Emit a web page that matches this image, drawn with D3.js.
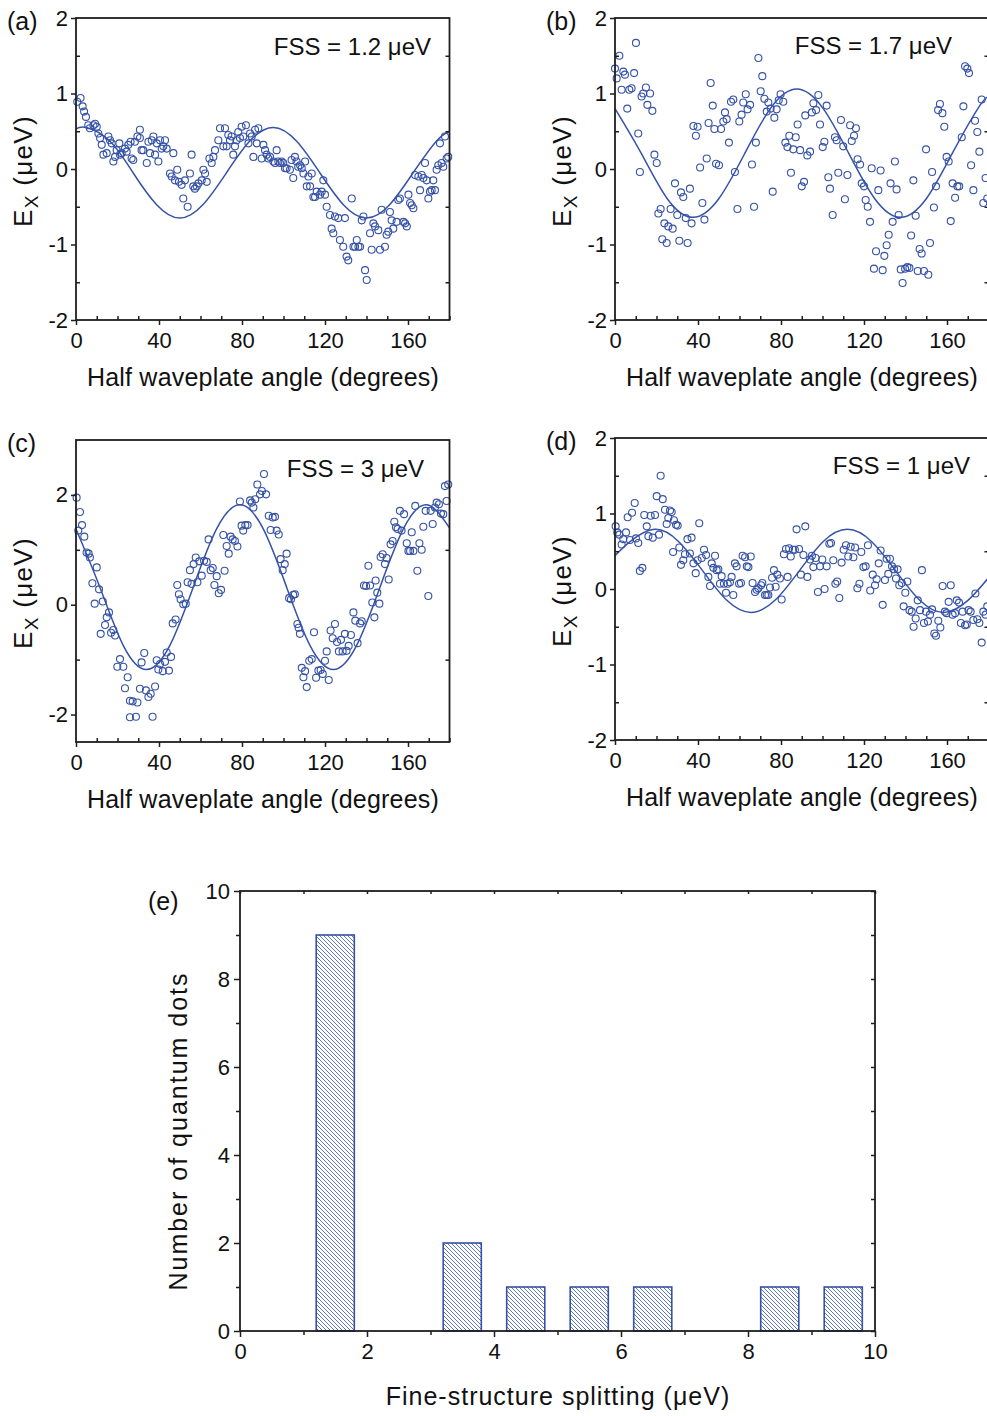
<!DOCTYPE html>
<html>
<head>
<meta charset="utf-8">
<script src="https://cdn.jsdelivr.net/npm/d3@7"></script>
<style>
  body { margin: 0; background: #fff; }
  svg text { font-family: "Liberation Sans", Arial, sans-serif; fill: #111; }
</style>
</head>
<body>
<div id="chart"></div>
<script>
// ---- data ----
const angleTicks = [0, 40, 80, 120, 160];
const angleMinor = [10, 20, 30, 50, 60, 70, 90, 100, 110, 130, 140, 150, 170, 180];
const eTicks = [-2, -1, 0, 1, 2];
const eMinor = [-1.5, -0.5, 0.5, 1.5];
const eTicksC = [-2, 0, 2];
const eMinorC = [-1, 1];

const fssLabels = ["FSS = 1.2 \u03bceV", "FSS = 1.7 \u03bceV", "FSS = 3 \u03bceV", "FSS = 1 \u03bceV"];

// measured E_x vs half waveplate angle, [angle, value]
const pointsA = [[0.6,0.89],[2.2,0.94],[3.2,0.83],[3.9,0.76],[4.8,0.69],[5.9,0.58],[6.7,0.54],[8.4,0.58],[9.2,0.6],[10,0.56],
  [10.8,0.47],[11.6,0.41],[12.4,0.32],[13.2,0.19],[14.8,0.21],[15.6,0.43],[16.4,0.38],[17.2,0.34],[18,0.1],[18.8,0.16],
  [19.6,0.25],[20.9,0.34],[21.2,0.19],[22,0.21],[23.6,0.27],[24.4,0.23],[25.2,0.32],[26.3,0.36],[26.8,0.14],[27.6,0.12],
  [28.4,0.36],[29.6,0.43],[30.8,0.52],[30.8,0.41],[31.6,0.25],[32.4,0.25],[34.1,0.08],[34.9,0.36],[35.7,0.21],[36.5,0.38],
  [37.3,0.43],[38.1,0.19],[38.9,0.34],[39.7,0.1],[40.5,0.38],[41.3,0.27],[42.1,0.3],[42.9,0.38],[43.7,0.27],[45.3,-0.06],
  [46.1,-0.1],[46.9,0.21],[47.7,-0.15],[48.8,-0.01],[49.6,-0.17],[50.9,-0.21],[51.7,-0.39],[52.5,-0.15],[53.8,-0.5],[54.9,-0.06],
  [55.7,0.19],[56.5,-0.23],[57.3,-0.26],[58.2,-0.23],[59,-0.19],[60.6,-0.15],[61.4,-0.01],[62.2,-0.06],[63,-0.17],[64.3,0.14],
  [65.4,0.08],[66.2,0.16],[67,0.25],[68.6,0.38],[69.4,0.54],[71,0.3],[71.8,0.54],[72.6,0.3],[73.4,0.45],[74.2,0.38],
  [75,0.43],[75.8,0.19],[76.6,0.3],[77.4,0.38],[78.2,0.49],[79,0.41],[79.8,0.56],[80.6,0.43],[81.9,0.58],[83.1,0.34],
  [83.9,0.47],[84.7,0.43],[85.5,0.16],[86.3,0.52],[87.1,0.34],[87.9,0.54],[89.5,0.14],[90.3,0.32],[91.1,0.25],[91.9,0.19],
  [92.7,0.14],[93.5,0.16],[95.1,0.1],[95.9,0.08],[96.7,0.25],[97.5,0.1],[98.3,0.08],[99.1,0.1],[99.9,0.08],[100.7,0.01],
  [101.5,0.01],[103.1,-0.01],[103.9,0.12],[104.7,-0.12],[105.5,0.16],[106.3,0.1],[107.1,0.03],[108,0.05],[108.8,0.01],[109.6,-0.06],
  [110.4,0.1],[111.2,-0.23],[112,-0.1],[112.8,-0.23],[113.6,-0.06],[114.4,-0.37],[115.2,-0.37],[116,-0.3],[117.6,-0.34],[118.4,-0.3],
  [119.2,-0.15],[120,-0.34],[120.8,-0.5],[122.4,-0.61],[123.2,-0.79],[124,-0.85],[124.8,-0.63],[126.4,-0.65],[127.2,-0.94],[128.8,-1.03],
  [129.6,-0.65],[130.4,-1.16],[131.2,-1.21],[132.9,-0.39],[133.7,-1.03],[134.5,-1.03],[135.3,-0.94],[136.1,-1.03],[136.9,-1.03],[137.7,-0.68],
  [138.5,-0.63],[139.3,-1.34],[140.1,-1.47],[141.7,-0.85],[142.5,-1.07],[143.3,-0.72],[144.1,-0.76],[145.7,-0.81],[146.5,-1.07],[147.3,-0.54],
  [148.9,-1.03],[149.7,-0.87],[150.5,-0.83],[151.3,-0.57],[152.1,-0.68],[152.9,-0.79],[154.5,-0.7],[155.3,-0.41],[156.1,-0.39],[157.8,-0.7],
  [158.6,-0.72],[159.4,-0.76],[160.2,-0.34],[161,-0.45],[161.8,-0.48],[162.6,-0.52],[163.4,-0.08],[165,-0.1],[165.8,-0.28],[166.6,-0.08],
  [167.4,-0.12],[168.2,0.08],[169,-0.15],[169.8,-0.39],[170.6,-0.3],[171.4,-0.28],[172.2,-0.15],[173,-0.28],[173.8,-0.01],[174.6,0.05],
  [175.4,0.34],[176.2,0.08],[177,0.03],[177.8,0.43],[178.6,0.14],[179.4,0.16]];

const pointsB = [[0,1.33],[0.8,1.2],[2.1,1.5],[3.2,1.05],[4,1.29],[4.8,1.25],[5.9,0.8],[6.9,1.05],[8,1.07],[9.2,1.27],
  [10.1,1.67],[11.2,0.47],[12,-0.04],[12.8,0.96],[13.6,1],[14.9,1.08],[15.6,0.85],[16.9,1],[18,0.77],[19,0.19],
  [20.1,0.08],[20.9,-0.59],[22,-0.53],[22.8,-0.93],[23.8,-0.72],[24.9,-0.98],[25.7,-0.76],[26.8,-0.53],[27.8,-0.79],[28.9,-0.19],
  [30,-0.61],[31,-0.95],[31.8,-0.31],[32.9,-0.37],[34.1,-0.65],[35,-0.98],[36.1,-0.26],[36.9,-0.72],[37.8,0.57],[39,0.44],
  [39.8,0.56],[41,0.02],[42.1,-0.45],[43.1,-0.67],[44.2,0.14],[45.1,0.61],[46.1,1.14],[47.1,0.84],[47.9,0.53],[48.7,0.07],
  [50.1,0.05],[51.1,0.53],[52.2,0.63],[53,0.75],[53.8,0.66],[54.9,0.35],[55.9,0.89],[57,0.92],[57.8,-0.04],[59,-0.53],
  [59.9,0.63],[61,0.72],[61.8,0.88],[63,0.99],[63.9,0.79],[65.1,0.85],[66,0.06],[67,-0.5],[67.9,0.35],[69.1,1.47],
  [70.2,1.03],[71,1.23],[72,0.93],[73.1,0.76],[73.9,0.88],[75,0.8],[76,-0.3],[76.8,0.68],[77.9,0.79],[78.9,0.91],
  [79.8,0.99],[81.1,0.89],[82.1,0.35],[83.1,0.29],[84,0.44],[84.8,-0.05],[85.9,0.26],[87.1,0.42],[88,0.59],[89.2,0.25],
  [90,-0.23],[91.1,-0.17],[91.7,0.71],[92.7,0.18],[94,0.23],[94.9,0.75],[95.6,0.87],[96.9,0.78],[98,0.98],[98.8,0.59],
  [100.1,0.29],[100.9,0.36],[102,0.84],[102.8,-0.11],[103.6,-0.26],[104.9,-0.61],[106,0.42],[106.8,0.38],[107.6,-0.05],[108.9,0.65],
  [110,0.3],[110.8,-0.4],[112,-0.08],[113.3,0.58],[114.1,0.37],[115.2,0.44],[116.1,0.54],[116.9,0.13],[118.1,0.06],[118.9,-0.19],
  [120,-0.23],[120.8,-0.41],[121.8,-0.5],[122.9,-0.7],[123.7,0.01],[124.8,-1.32],[125.8,-1.09],[126.9,-0.28],[128,-0.02],[129,-1.34],
  [129.8,-1.15],[130.9,-1.01],[131.9,-0.87],[132.8,-0.19],[133.8,-0.7],[134.9,0.1],[135.7,-0.27],[136.7,-0.61],[137.7,-1.33],[138.6,-1.51],
  [139.8,-1.32],[140.9,-1.3],[141.9,-1.31],[142.7,-0.88],[143.8,-0.15],[144.9,-0.62],[145.9,-1.35],[146.8,-1.06],[147.8,-1.12],[148.9,-1.35],
  [149.9,0.26],[151,-1.4],[151.8,-0.98],[152.8,-0.04],[153.7,-0.51],[154.7,-0.23],[155.7,0.78],[156.6,0.86],[157.8,0.74],[158.7,0.56],
  [159.8,0.16],[160.8,0.1],[161.8,-0.69],[162.7,-0.19],[163.9,-0.38],[165,-0.23],[165.9,-0.23],[167.1,0.42],[167.9,0.83],[168.7,1.36],
  [169.8,1.33],[170.6,1.27],[171.6,0.05],[172.7,-0.28],[173.5,0.64],[174.6,0.49],[175.6,0.23],[176.7,0.92],[177.5,-0.45],[178.6,-0.12],
  [179.4,-0.39]];

const pointsC = [[0.3,1.95],[1.1,1.35],[1.9,1.69],[2.9,1.45],[4,1.24],[5.1,0.95],[6.1,0.93],[6.7,0.86],[7.9,0.39],[9,0.02],
  [10,0.68],[11.1,0.28],[11.9,-0.53],[12.9,0.06],[14,-0.37],[14.8,-0.23],[15.9,-0.14],[16.9,-0.51],[18,-0.46],[18.8,-0.56],
  [19.9,-1.13],[21.2,-0.99],[22.8,-1.13],[23.6,-1.52],[24.9,-1.32],[26,-1.75],[26,-2.05],[27.3,-1.76],[28.9,-2.04],[29.6,-1.78],
  [30.8,-1.53],[31.6,-1.05],[32.9,-0.88],[33.7,-1.56],[34.9,-1.68],[36,-1.62],[36.9,-2.04],[38.1,-1.49],[38.9,-1.01],[39.7,-1.18],
  [40.5,-1.08],[41.8,-1.21],[42.9,-1.04],[43.7,-0.87],[44.8,-1.2],[45.8,-0.95],[46.6,-0.34],[48,-0.27],[48.8,0.36],[49.6,0.19],
  [50.4,0.1],[51.7,0.01],[52.9,0.02],[53.8,0.41],[54.9,0.63],[55.7,0.38],[56.7,0.74],[57.7,0.86],[58.5,0.41],[59.4,0.79],
  [60.6,0.53],[61.7,0.8],[63,0.78],[63.9,1.19],[64.9,0.63],[65.9,0.67],[66.7,0.36],[67.8,0.52],[68.8,0.21],[69.9,0.27],
  [71,1.27],[71.6,0.62],[72.6,1.07],[73.6,0.93],[74.5,1.24],[75.5,1.19],[76.6,1.16],[77.8,1.06],[79,1.88],[79.8,1.44],
  [80.6,1.35],[81.6,1.45],[82.7,1.45],[83.9,1.9],[84.7,1.86],[85.5,1.77],[86.4,1.92],[87.4,2.19],[88.7,2.01],[89.6,2.07],
  [90.6,2.38],[91.6,2.01],[92.9,1.62],[93.8,1.36],[94.8,1.59],[95.9,1.6],[96.7,1.35],[97.7,1.28],[98.6,0.83],[99.6,0.63],
  [100.6,0.74],[101.5,0.93],[102.7,0.12],[103.6,0.1],[104.7,0.18],[105.5,0.19],[106.7,-0.35],[107.3,-0.42],[107.9,-0.53],[108.8,-1.15],
  [109.6,-1.32],[110.4,-1.21],[111.2,-1.5],[112.4,-1.02],[113.6,-0.99],[114.7,-0.5],[115.7,-1.33],[116.8,-1.2],[117.9,-1.19],[118.9,-1.26],
  [120,-1.02],[120.8,-0.85],[121.8,-1.37],[122.7,-0.47],[123.7,-0.61],[124.8,-0.35],[125.8,-0.68],[126.7,-0.85],[127.7,-0.64],[128.5,-0.85],
  [129.6,-0.53],[130.4,-0.84],[131.4,-0.75],[132.5,-0.55],[133.7,-0.14],[134.6,-0.29],[135.7,-0.7],[136.9,-0.34],[137.7,-0.3],[138.8,0.35],
  [139.8,0.34],[140.9,0.71],[141.7,0.35],[142.8,0.04],[143.8,-0.23],[144.4,0.44],[145.2,0.22],[146.2,0.02],[146.8,0.87],[147.8,0.92],
  [148.9,0.74],[149.7,0.85],[150.7,0.46],[151.6,1.1],[152.6,1.16],[153.4,1.51],[154.2,1.41],[155,1.38],[156.1,1.71],[156.9,1.35],
  [158.1,1.65],[159.4,1.12],[160.2,0.98],[161,0.98],[161.8,1.32],[162.6,0.98],[163.5,1.8],[164.5,0.62],[165.5,1.12],[166.6,1],
  [167.4,1.42],[168.5,1.71],[169.8,0.16],[170.9,1.71],[171.9,1.47],[173,1.77],[173.8,1.86],[174.9,1.83],[175.9,1.66],[177,1.65],
  [177.8,2.16],[178.6,1.89],[179.4,2.19]];

const pointsD = [[0.3,0.83],[1.1,0.75],[2.1,0.72],[3.2,0.59],[4,0.66],[5.3,0.75],[6.1,0.95],[7.2,0.65],[8.2,1.01],[9.5,1.14],
  [10.1,0.67],[11.2,0.61],[12,0.24],[13.2,0.28],[14.1,0.98],[15.3,0.83],[16.1,0.7],[17.2,0.97],[18.2,0.68],[19.3,0.98],
  [20.1,1.23],[21.2,0.72],[22,1.5],[23,1.19],[24.1,1.05],[24.9,0.86],[25.7,0.94],[26.5,1.04],[27.3,1.02],[28.4,0.91],
  [29.4,0.85],[30.2,0.84],[28,0.49],[31,0.55],[31.8,0.32],[32.9,0.38],[33.7,0.46],[34.9,0.66],[36.1,0.47],[36.9,0.68],
  [37.8,0.34],[38.9,0.21],[39.8,0.38],[40.6,0.87],[41.8,0.41],[42.9,0.52],[43.9,0.45],[45,0.16],[45.8,0.04],[46.6,0.34],
  [47.4,0.28],[48.2,0.44],[49,0.25],[49.8,0.26],[50.6,0.07],[51.4,0.17],[52.5,0.07],[53.5,-0.05],[54.3,0.07],[55.4,0.09],
  [56.2,0.16],[57,-0.08],[57.8,0.34],[58.6,0.3],[59.8,0.07],[60.7,0.08],[61.5,0.44],[62.7,0.42],[63.5,0.3],[64.3,0.29],
  [65.4,0.43],[66.3,0.08],[67.5,-0.04],[68.3,-0.01],[69.1,0.01],[70.4,0.05],[71,0.08],[72.3,-0.08],[73.1,-0.08],[73.9,-0.08],
  [74.7,0.02],[75.7,0.15],[76.6,0.25],[77.4,0.03],[78.2,0.19],[79.5,0.14],[80.3,-0.14],[81.4,0.46],[82.4,0.53],[83.2,0.16],
  [83.9,0.54],[84.7,0.43],[85.8,0.52],[86.7,0.52],[87.5,0.79],[88.7,0.53],[89.6,0.19],[90.8,0.45],[91.7,0.83],[92.7,0.16],
  [94,0.39],[94.9,0.44],[95.6,0.29],[96.7,0.41],[97.8,-0.04],[98.8,0.3],[99.9,0.39],[101,0],[102,0.3],[103.3,0.6],
  [104.1,0.61],[105.2,0.38],[106.2,0.07],[107.1,0.1],[108.1,-0.12],[109.2,0.35],[110.2,0.52],[111.3,0.58],[112.4,0.43],[113.6,0.56],
  [114.9,0.42],[115.7,0.55],[116.8,0.01],[117.8,0.07],[118.7,0.49],[119.7,0.29],[120.8,0.3],[121.9,0.58],[123,-0.02],[124.2,0.19],
  [125.3,0.05],[126.1,0.13],[127.1,0.34],[128,0.51],[129,-0.21],[130.1,0.12],[130.9,0.4],[131.7,0.2],[132.5,0.4],[133.5,0.3],
  [134.5,0.26],[135.4,0.14],[136.2,0.26],[137,0.05],[138.2,0.08],[139.1,-0.23],[139.9,-0.05],[140.9,0.1],[141.9,-0.28],[143,-0.3],
  [143.9,-0.5],[144.9,-0.39],[145.9,-0.15],[147,-0.28],[147.9,0.25],[148.9,-0.45],[149.9,-0.3],[150.8,-0.43],[151.8,-0.34],[152.8,-0.27],
  [153.9,-0.59],[154.7,-0.62],[155.8,-0.42],[156.8,-0.51],[157.9,0.04],[159,-0.3],[159.8,-0.32],[160.8,-0.17],[161.8,0.05],[162.7,-0.34],
  [163.9,-0.32],[164.7,-0.15],[165.8,-0.18],[166.7,-0.45],[167.5,-0.3],[168.7,-0.48],[169.5,-0.47],[170.4,-0.28],[171.4,-0.3],[172.7,-0.41],
  [173.7,-0.06],[174.6,-0.4],[175.6,-0.45],[176.7,-0.71],[177.5,-0.3],[178.6,-0.34],[179.4,-0.23]];

// fitted curves, sampled from the figure
const fitA = [[0,0.53],[5,0.55],[16.25,0.37],[27.5,-0.05],[38.75,-0.47],[50,-0.65],[61.25,-0.47],[72.5,-0.05],[83.75,0.37],
  [95,0.55],[106.25,0.37],[117.5,-0.05],[128.75,-0.47],[140,-0.65],[151.25,-0.47],[162.5,-0.05],[173.75,0.37],[180,0.5]];
const fitB = [[0,0.8],[12.6,0.21],[25.1,-0.39],[37.6,-0.64],[50.1,-0.39],[62.6,0.21],[75.1,0.81],[87.6,1.06],[100.1,0.81],
  [112.6,0.21],[125.1,-0.39],[137.6,-0.64],[150.1,-0.39],[162.6,0.21],[175.1,0.81],[180,0.96]];
const fitC = [[0,1.38],[11.5,0.32],[22.75,-0.74],[34,-1.18],[45.25,-0.74],[56.5,0.32],[67.75,1.38],[79,1.82],[90.25,1.38],
  [101.5,0.32],[112.75,-0.74],[124,-1.18],[135.25,-0.74],[146.5,0.32],[157.75,1.38],[169,1.82],[180,1.4]];
const fitD = [[0,0.44],[7.4,0.63],[19,0.79],[30.6,0.63],[42.3,0.24],[53.9,-0.15],[65.5,-0.31],[77.1,-0.15],[88.8,0.24],
  [100.4,0.63],[112,0.79],[123.6,0.63],[135.3,0.24],[146.9,-0.15],[158.5,-0.31],[170.1,-0.15],[180,0.15]];

// histogram of fine-structure splitting
const fssBinStart = [1.2, 3.2, 4.2, 5.2, 6.2, 8.2, 9.2];
const fssBinEnd = [1.8, 3.8, 4.8, 5.8, 6.8, 8.8, 9.8];
const dotCounts = [9, 2, 1, 1, 1, 1, 1];
const fssTicks = [0, 2, 4, 6, 8, 10];
const fssMinor = [1, 3, 5, 7, 9];
const countTicks = [0, 2, 4, 6, 8, 10];
const countMinor = [1, 3, 5, 7, 9];

// ---- drawing ----
const width = 987, height = 1416;
const blue = "#3552a6", ink = "#1e1e1e";

const svg = d3.select("#chart")
    .append("svg")
    .attr("width", width)
    .attr("height", height);

const defs = svg.append("defs");
defs.append("pattern")
    .attr("id", "hatch")
    .attr("patternUnits", "userSpaceOnUse")
    .attr("width", 4)
    .attr("height", 4)
    .append("path")
    .attr("d", "M-1,-1L5,5M-1,3L1,5M3,-1L5,1")
    .attr("stroke", blue)
    .attr("stroke-width", 0.8);

const plain = d => String(d);   // "-2", not "−2.0"

function styleAxis(g) {
    g.select(".domain").remove();
    g.selectAll(".tick line").attr("stroke", ink).attr("stroke-width", 1.5);
    g.selectAll(".tick text").attr("font-size", 22).attr("fill", "#111");
}

function frame(g, x0, x1, y0, y1) {
    g.append("rect")
        .attr("x", x0).attr("y", y0)
        .attr("width", x1 - x0).attr("height", y1 - y0)
        .attr("fill", "none")
        .attr("stroke", ink)
        .attr("stroke-width", 1.8);
}

function drawPanel(p) {
    const g = svg.append("g");
    const x = d3.scaleLinear().domain([0, 180]).range([p.left, p.left + 373.5]);
    const y = d3.scaleLinear().domain(p.yDomain).range([p.bottom, p.top]);

    // fitted curve
    g.append("path")
        .datum(p.fit)
        .attr("fill", "none")
        .attr("stroke", blue)
        .attr("stroke-width", 1.5)
        .attr("d", d3.line().x(d => x(d[0])).y(d => y(d[1])).curve(d3.curveNatural));

    // data points
    g.append("g")
        .selectAll("circle")
        .data(p.points)
        .join("circle")
        .attr("cx", d => x(d[0]))
        .attr("cy", d => y(d[1]))
        .attr("r", 3.5)
        .attr("fill", "none")
        .attr("stroke", blue)
        .attr("stroke-width", 1.1);

    frame(g, p.left, p.left + 373.5, p.top, p.bottom);

    // bottom axis: labelled ticks outwards, minor ticks inwards
    g.append("g")
        .attr("transform", `translate(0,${p.bottom})`)
        .call(d3.axisBottom(x).tickValues(angleTicks).tickFormat(plain).tickSize(5).tickPadding(7))
        .call(styleAxis);
    g.append("g")
        .attr("transform", `translate(0,${p.bottom})`)
        .call(d3.axisBottom(x).tickValues(angleMinor).tickSize(-4).tickFormat(""))
        .call(styleAxis);

    // left axis
    g.append("g")
        .attr("transform", `translate(${p.left},0)`)
        .call(d3.axisLeft(y).tickValues(p.yTicks).tickFormat(plain).tickSize(5).tickPadding(3))
        .call(styleAxis);
    g.append("g")
        .attr("transform", `translate(${p.left},0)`)
        .call(d3.axisLeft(y).tickValues(p.yMinor).tickSize(-4).tickFormat(""))
        .call(styleAxis);
    // right axis, minor ticks pointing in
    g.append("g")
        .attr("transform", `translate(${p.left + 373.5},0)`)
        .call(d3.axisRight(y).tickValues(p.yMinor).tickSize(-4).tickFormat(""))
        .call(styleAxis);

    g.append("text")
        .attr("x", p.left + 187)
        .attr("y", p.bottom + 66)
        .attr("text-anchor", "middle")
        .attr("font-size", 25)
        .attr("letter-spacing", 0.2)
        .text("Half waveplate angle (degrees)");

    // E_x (µeV)
    const t = g.append("text")
        .attr("transform", `translate(${p.left - 44},${(p.top + p.bottom) / 2 + 2}) rotate(-90)`)
        .attr("text-anchor", "middle")
        .attr("font-size", 26)
        .attr("letter-spacing", 1.3);
    t.append("tspan").text("E");
    t.append("tspan").attr("font-size", 19).attr("dy", 6).text("X");
    t.append("tspan").attr("dy", -6).text(" (\u03bceV)");

    g.append("text")
        .attr("x", p.left - 69)
        .attr("y", p.top + 12)
        .attr("font-size", 25)
        .text(p.tag);

    g.append("text")
        .attr("x", p.fssX)
        .attr("y", p.fssY)
        .attr("text-anchor", "end")
        .attr("font-size", 24)
        .text(p.fss);
}

drawPanel({ left: 76, top: 18, bottom: 320, yDomain: [-2, 2], yTicks: eTicks, yMinor: eMinor,
    points: pointsA, fit: fitA, tag: "(a)", fss: fssLabels[0], fssX: 431, fssY: 55 });
drawPanel({ left: 615, top: 18, bottom: 320, yDomain: [-2, 2], yTicks: eTicks, yMinor: eMinor,
    points: pointsB, fit: fitB, tag: "(b)", fss: fssLabels[1], fssX: 952, fssY: 54 });
drawPanel({ left: 76, top: 440, bottom: 742, yDomain: [-2.5, 3], yTicks: eTicksC, yMinor: eMinorC,
    points: pointsC, fit: fitC, tag: "(c)", fss: fssLabels[2], fssX: 424, fssY: 477 });
drawPanel({ left: 615, top: 438, bottom: 740, yDomain: [-2, 2], yTicks: eTicks, yMinor: eMinor,
    points: pointsD, fit: fitD, tag: "(d)", fss: fssLabels[3], fssX: 970, fssY: 474 });

// histogram (e)
{
    const g = svg.append("g");
    const x = d3.scaleLinear().domain([0, 10]).range([240, 875]);
    const y = d3.scaleLinear().domain([0, 10]).range([1331, 891]);

    g.append("g")
        .selectAll("rect")
        .data(dotCounts)
        .join("rect")
        .attr("x", (d, i) => x(fssBinStart[i]))
        .attr("width", (d, i) => x(fssBinEnd[i]) - x(fssBinStart[i]))
        .attr("y", d => y(d))
        .attr("height", d => y(0) - y(d))
        .attr("fill", "url(#hatch)")
        .attr("stroke", blue)
        .attr("stroke-width", 1.6);

    frame(g, 240, 875, 891, 1331);

    g.append("g")
        .attr("transform", "translate(0,1331)")
        .call(d3.axisBottom(x).tickValues(fssTicks).tickFormat(plain).tickSize(6).tickPadding(6))
        .call(styleAxis);
    g.append("g")
        .attr("transform", "translate(0,1331)")
        .call(d3.axisBottom(x).tickValues(fssMinor).tickSize(4).tickFormat(""))
        .call(styleAxis);
    g.append("g")
        .attr("transform", "translate(0,891)")
        .call(d3.axisTop(x).tickValues(fssMinor.concat(fssTicks)).tickSize(-3).tickFormat(""))
        .call(styleAxis);
    g.append("g")
        .attr("transform", "translate(240,0)")
        .call(d3.axisLeft(y).tickValues(countTicks).tickFormat(plain).tickSize(6).tickPadding(4))
        .call(styleAxis);
    g.append("g")
        .attr("transform", "translate(240,0)")
        .call(d3.axisLeft(y).tickValues(countMinor).tickSize(4).tickFormat(""))
        .call(styleAxis);
    g.append("g")
        .attr("transform", "translate(875,0)")
        .call(d3.axisRight(y).tickValues(countMinor.concat(countTicks)).tickSize(-4).tickFormat(""))
        .call(styleAxis);

    g.append("text")
        .attr("x", 558)
        .attr("y", 1405)
        .attr("text-anchor", "middle")
        .attr("font-size", 25)
        .attr("letter-spacing", 1)
        .text("Fine-structure splitting (\u03bceV)");

    g.append("text")
        .attr("transform", "translate(187,1131) rotate(-90)")
        .attr("text-anchor", "middle")
        .attr("font-size", 25)
        .attr("letter-spacing", 2)
        .text("Number of quantum dots");

    g.append("text")
        .attr("x", 148)
        .attr("y", 910)
        .attr("font-size", 25)
        .text("(e)");
}
</script>
</body>
</html>
